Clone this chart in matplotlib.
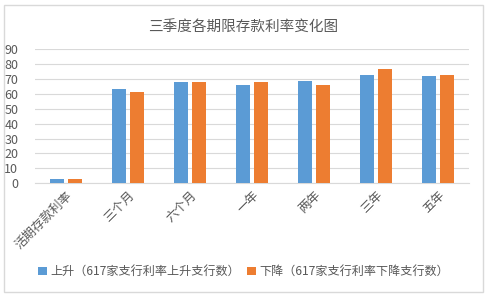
import numpy as np
import matplotlib.pyplot as plt
from matplotlib.patches import Rectangle

plt.rcParams['font.family'] = ['Noto Sans CJK SC', 'DejaVu Sans']

# -----------------------------
# Datos
# -----------------------------
categorias = ["活期存款利率", "三个月", "六个月", "一年", "两年", "三年", "五年"]
subida = [3, 63, 68, 66, 69, 73, 72]
bajada = [3, 61, 68, 68, 66, 77, 73]
nombres = ["上升（617家支行利率上升支行数）", "下降（617家支行利率下降支行数）"]

azul = "#5B9BD5"
naranja = "#ED7D31"
gris_texto = "#595959"

fig = plt.figure(figsize=(4.87, 2.97), dpi=100)
ax = fig.add_axes([0.072, 0.383, 0.891, 0.451])

x = np.arange(len(categorias))
ancho = 0.226
ax.bar(x - 0.145, subida, ancho, color=azul, label=nombres[0], zorder=3)
ax.bar(x + 0.145, bajada, ancho, color=naranja, label=nombres[1], zorder=3)

ax.set_xlim(-0.5, len(categorias) - 0.5)
ax.set_ylim(0, 90)
ax.set_yticks(range(0, 91, 10))
ax.grid(axis="y", color="#d9d9d9", linewidth=0.8, zorder=0)
ax.set_xticks(x)
ax.set_xticklabels(categorias, rotation=45, ha="right", rotation_mode="anchor",
                   fontsize=9, color=gris_texto)
ax.tick_params(axis="y", labelsize=9, labelcolor=gris_texto, length=0, pad=12)
ax.tick_params(axis="x", length=0, pad=4)
for lado in ["top", "right", "left"]:
    ax.spines[lado].set_visible(False)
ax.spines["bottom"].set_color("#d9d9d9")

fig.text(0.5, 0.905, "三季度各期限存款利率变化图", ha="center", va="center",
         fontsize=10.5, color=gris_texto)

fig.legend(loc="center", bbox_to_anchor=(0.5, 0.085), ncol=2, frameon=False,
           fontsize=8.7, handlelength=0.7, handleheight=0.7, handletextpad=0.3,
           columnspacing=0.6, labelcolor=gris_texto)

# marco exterior
fig.patches.append(Rectangle((4 / 487, 5 / 297), 479 / 487, 287 / 297,
                             transform=fig.transFigure, fill=False,
                             edgecolor="#d9d9d9", linewidth=1))

fig.savefig("out.png", dpi=100)
